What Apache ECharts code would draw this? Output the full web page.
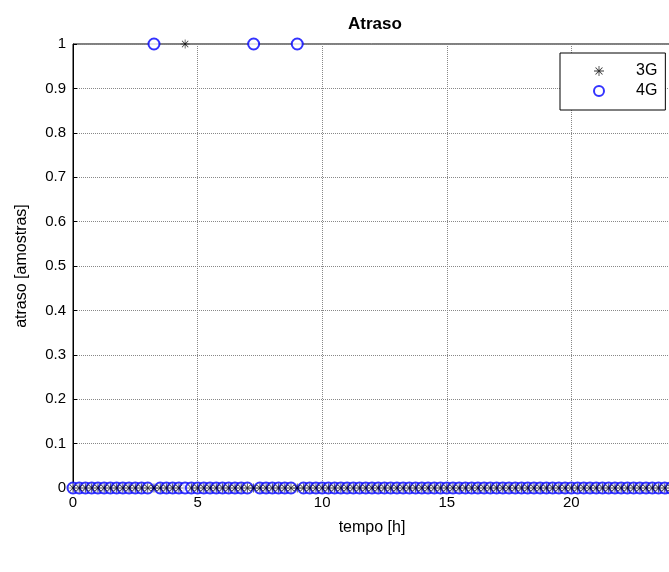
<!DOCTYPE html>
<html>
<head>
<meta charset="utf-8">
<script src="https://cdn.jsdelivr.net/npm/echarts@6/dist/echarts.min.js"></script>
<style>html,body{margin:0;padding:0;background:#fff}#c{width:669px;height:572px}</style>
</head>
<body>
<div id="c"></div>
<script>
// time samples [h]
var t = [0,0.25,0.5,0.75,1,1.25,1.5,1.75,2,2.25,2.5,2.75,3,3.25,3.5,3.75,4,4.25,4.5,4.75,
5,5.25,5.5,5.75,6,6.25,6.5,6.75,7,7.25,7.5,7.75,8,8.25,8.5,8.75,9,9.25,9.5,9.75,
10,10.25,10.5,10.75,11,11.25,11.5,11.75,12,12.25,12.5,12.75,13,13.25,13.5,13.75,14,14.25,14.5,14.75,
15,15.25,15.5,15.75,16,16.25,16.5,16.75,17,17.25,17.5,17.75,18,18.25,18.5,18.75,19,19.25,19.5,19.75,
20,20.25,20.5,20.75,21,21.25,21.5,21.75,22,22.25,22.5,22.75,23,23.25,23.5,23.75,24];
// 3G delay [samples]
var g3 = [0,0,0,0,0,0,0,0,0,0,0,0,0,0,0,0,0,0,1,0,
0,0,0,0,0,0,0,0,0,0,0,0,0,0,0,0,0,0,0,0,
0,0,0,0,0,0,0,0,0,0,0,0,0,0,0,0,0,0,0,0,
0,0,0,0,0,0,0,0,0,0,0,0,0,0,0,0,0,0,0,0,
0,0,0,0,0,0,0,0,0,0,0,0,0,0,0,0,0];
// 4G delay [samples]
var g4 = [0,0,0,0,0,0,0,0,0,0,0,0,0,1,0,0,0,0,0,0,
0,0,0,0,0,0,0,0,0,1,0,0,0,0,0,0,1,0,0,0,
0,0,0,0,0,0,0,0,0,0,0,0,0,0,0,0,0,0,0,0,
0,0,0,0,0,0,0,0,0,0,0,0,0,0,0,0,0,0,0,0,
0,0,0,0,0,0,0,0,0,0,0,0,0,0,0,0,0];
var xTicks = [0,5,10,15,20];
var yTicks = [0,0.1,0.2,0.3,0.4,0.5,0.6,0.7,0.8,0.9,1];

function pairs(x, y){ var r=[]; for (var i=0;i<x.length;i++) r.push([x[i], y[i]]); return r; }
var star = 'path://M0,4.6L10,4.6L10,5.4L0,5.4Z M4.6,0L5.4,0L5.4,10L4.6,10Z M1.2,1.8L1.8,1.2L8.8,8.2L8.2,8.8Z M8.2,1.2L8.8,1.8L1.8,8.8L1.2,8.2Z';
var font = 'Liberation Sans, Arial, sans-serif';
var chart = echarts.init(document.getElementById('c'));
chart.setOption({
  animation:false,
  backgroundColor:'#fff',
  title:{text:'Atraso', left:343, top:11,
    textStyle:{fontFamily:font, fontSize:17, fontWeight:'bold', color:'#000'}},
  grid:{left:73, top:44, width:598, bottom:84, show:true, borderColor:'#000', borderWidth:1,
    backgroundColor:'transparent', outerBoundsMode:'none', containLabel:false},
  legend:{left:560, top:53, orient:'vertical', padding:[10,8,11,33], itemGap:4,
    itemWidth:10, itemHeight:10, backgroundColor:'#fff', borderColor:'#000', borderWidth:1,
    textStyle:{fontFamily:font, fontSize:16, color:'#000', padding:[0,0,0,27]},
    data:[{name:'3G', icon:star},{name:'4G'}]},
  xAxis:[{type:'value', min:0, max:24, interval:5, position:'bottom',
    name:'tempo [h]', nameLocation:'middle', nameGap:32,
    nameTextStyle:{fontFamily:font, fontSize:16, color:'#000'},
    axisLine:{show:true, onZero:false, lineStyle:{color:'#000'}},
    axisTick:{show:true, inside:true, length:4, lineStyle:{color:'#000'}},
    axisLabel:{fontFamily:font, fontSize:15, color:'#000', margin:7,
      formatter:function(v){ return xTicks.indexOf(v)>=0 ? String(v) : ''; }},
    splitLine:{show:true, lineStyle:{color:'#888', type:'dotted', width:1}}},
   {type:'value', min:0, max:24, interval:5, position:'top',
    axisLine:{show:true, lineStyle:{color:'#000'}},
    axisTick:{show:true, inside:true, length:4, lineStyle:{color:'#000'}},
    axisLabel:{show:false}, splitLine:{show:false}}],
  yAxis:[{type:'value', min:0, max:1, interval:0.1,
    name:'atraso [amostras]', nameLocation:'middle', nameGap:43,
    nameTextStyle:{fontFamily:font, fontSize:16, color:'#000'},
    axisLine:{show:true, lineStyle:{color:'#000'}},
    axisTick:{show:true, inside:true, length:4, lineStyle:{color:'#000'}},
    axisLabel:{fontFamily:font, fontSize:15, color:'#000', margin:7,
      formatter:function(v){ var r = Math.round(v*10)/10; return yTicks.indexOf(r)>=0 ? String(r) : ''; }},
    splitLine:{show:true, lineStyle:{color:'#888', type:'dotted', width:1}}}],
  series:[
    {name:'3G', type:'scatter', data:pairs(t,g3), symbol:star, symbolSize:9,
     itemStyle:{color:'#000'}, z:4, clip:false},
    {name:'4G', type:'scatter', data:pairs(t,g4), symbol:'emptyCircle', symbolSize:11,
     itemStyle:{color:'#0000ff', borderColor:'#0000ff', borderWidth:1}, z:3, clip:false}
  ]
});
</script>
</body>
</html>
